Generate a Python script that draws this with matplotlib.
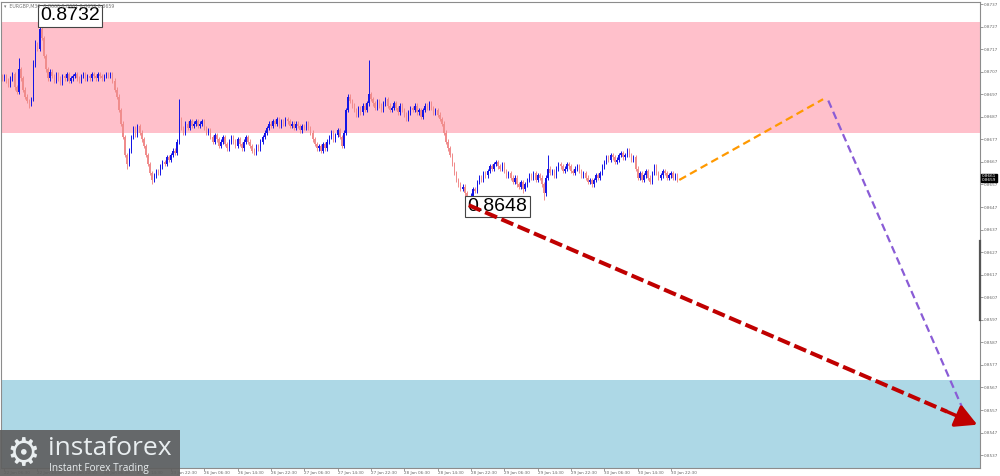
import numpy as np
import matplotlib.pyplot as plt
from matplotlib.patches import Rectangle

# EURGBP M30 closes, in pips above 0.8600 (bar 0 = 22 Jan 06:00)
closes_pips = [
    104, 105, 103, 101, 104, 106, 100, 98, 108, 104,
    99, 96, 94, 93, 95, 110, 119, 117, 126, 122,
    114, 108, 104, 107, 105, 103, 106, 104, 102, 105,
    104, 106, 103, 104, 105, 106, 104, 103, 105, 106,
    104, 105, 104, 106, 105, 104, 106, 105, 104, 105,
    106, 105, 106, 103, 99, 96, 90, 84, 78, 70,
    66, 72, 78, 82, 79, 83, 80, 77, 74, 70,
    66, 62, 59, 61, 63, 62, 65, 67, 66, 69,
    68, 70, 72, 71, 76, 86, 82, 80, 84, 82,
    85, 83, 84, 85, 83, 84, 85, 82, 80, 81,
    78, 76, 79, 77, 74, 76, 78, 75, 73, 76,
    78, 76, 74, 77, 75, 73, 76, 78, 76, 74,
    72, 71, 74, 73, 76, 78, 80, 82, 84, 83,
    85, 84, 86, 83, 85, 84, 86, 85, 83, 84,
    82, 84, 83, 81, 83, 82, 84, 82, 80, 77,
    75, 73, 74, 72, 75, 73, 76, 78, 80, 77,
    79, 81, 78, 74, 80, 90, 96, 94, 92, 90,
    88, 91, 89, 92, 90, 93, 97, 95, 93, 91,
    94, 92, 90, 93, 95, 92, 90, 91, 93, 91,
    89, 92, 90, 88, 86, 89, 91, 90, 92, 89,
    90, 87, 90, 92, 91, 93, 91, 89, 90, 88,
    86, 84, 80, 76, 73, 70, 66, 62, 59, 57,
    55, 56, 53, 51, 50, 52, 55, 54, 58, 60,
    59, 62, 61, 63, 65, 64, 66, 67, 65, 64,
    66, 63, 61, 62, 60, 58, 60, 57, 56, 58,
    55, 57, 59, 61, 60, 62, 59, 61, 60, 57,
    53, 60, 64, 62, 63, 61, 64, 66, 65, 63,
    64, 66, 65, 63, 62, 64, 65, 63, 61, 62,
    60, 58, 59, 57, 59, 61, 60, 62, 65, 67,
    69, 68, 70, 69, 67, 68, 70, 71, 69, 70,
    72, 70, 68, 69, 64, 60, 62, 59, 61, 63,
    60, 58, 62, 65, 62, 60, 61, 63, 62, 60,
    61, 62, 60, 61, 59,
]
# wicks that reach further than the usual pip
high_spikes = {8: 113, 15: 112, 16: 121, 18: 132, 85: 95, 176: 112, 262: 70}
low_spikes = {13: 91, 60: 64, 72: 57, 224: 48, 250: 53, 260: 50}

tick_labels = ['22 Jan 06:30', '22 Jan 14:30', '22 Jan 22:30', '23 Jan 06:30',
               '23 Jan 14:30', '23 Jan 22:30', '26 Jan 06:30', '26 Jan 14:30',
               '26 Jan 22:30', '27 Jan 06:30', '27 Jan 14:30', '27 Jan 22:30',
               '28 Jan 06:30', '28 Jan 14:30', '28 Jan 22:30', '29 Jan 06:30',
               '29 Jan 14:30', '29 Jan 22:30', '30 Jan 06:30', '30 Jan 14:30',
               '30 Jan 22:30']
price_ticks = [0.8737, 0.8727, 0.8717, 0.8707, 0.8697, 0.8687, 0.8677, 0.8667,
               0.8657, 0.8647, 0.8637, 0.8627, 0.8617, 0.8607, 0.8597, 0.8587,
               0.8577, 0.8567, 0.8557, 0.8547, 0.8537]

sell_zone = (0.86798, 0.8729)
buy_zone_top = 0.85703
high_bar, high_price = 18, 0.8732
low_bar, low_price = 224, 0.8648

# forecast paths (bar index, price)
orange_x, orange_y = [325, 394], [0.8659, 0.86948]
purple_x, purple_y = [396.5, 461.5], [0.86942, 0.85565]
red_x, red_y = [224, 468], [0.86478, 0.85505]

bull_color = '#1414e6'
bear_color = '#f08c8c'

closes = 0.86 + np.array(closes_pips) / 10000
opens = np.r_[closes[0] + 0.0001, closes[:-1]]
idx = np.arange(len(closes))
hi = np.maximum(opens, closes) + 0.0001
lo = np.minimum(opens, closes) - 0.0001
for i, v in high_spikes.items():
    hi[i] = 0.86 + v / 10000
for i, v in low_spikes.items():
    lo[i] = 0.86 + v / 10000
up = closes >= opens

fig = plt.figure(figsize=(10, 4.76), dpi=100)
ax = fig.add_axes([0.001, 0.0168, 0.979, 0.979])
ax.set_xlim(-0.5, 469.3)
ax.set_ylim(0.85313, 0.87379)

# zones
ax.axhspan(sell_zone[0], sell_zone[1], color='#ffc0cb', lw=0, zorder=0)
ax.axhspan(0.85, buy_zone_top, color='#add8e6', lw=0, zorder=0)

# candles
ax.vlines(idx[up], lo[up], hi[up], color=bull_color, lw=0.7, zorder=2)
ax.vlines(idx[~up], lo[~up], hi[~up], color=bear_color, lw=0.7, zorder=2)
body = np.maximum(np.abs(closes - opens), 0.00003)
ax.bar(idx, body, bottom=np.minimum(opens, closes), width=0.6,
       color=np.where(up, bull_color, bear_color), lw=0, zorder=2)

# extreme labels
box = dict(boxstyle='square,pad=0.12', fc='white', ec='#444444', lw=0.8)
ax.text(high_bar + 0.3, high_price - 0.00003, f'{high_price:.4f}', fontsize=14,
        family='Liberation Sans', ha='left', va='center', bbox=box, zorder=3)
ax.text(low_bar - 0.6, low_price - 0.00008, f'{low_price:.4f}', fontsize=14,
        family='Liberation Sans', ha='left', va='center', bbox=box, zorder=3)

# forecast lines
ax.plot(orange_x, orange_y, color='#ff9900', lw=1.6, ls=(0, (3.5, 2)), zorder=4)
ax.plot(purple_x, purple_y, color='#8a5cd6', lw=1.6, ls=(0, (3.5, 2)), zorder=4)
head_x = red_x[0] + 0.94 * (red_x[1] - red_x[0])
head_y = red_y[0] + 0.94 * (red_y[1] - red_y[0])
ax.plot([red_x[0], head_x], [red_y[0], head_y], color='#c00000', lw=2.9,
        ls=(0, (3.2, 1.2)), zorder=5)
ax.annotate('', xy=(red_x[1], red_y[1]), xytext=(head_x, head_y),
            arrowprops=dict(arrowstyle='-|>,head_length=1.3,head_width=0.7',
                            color='#c00000', lw=2.5, shrinkA=0, shrinkB=0),
            zorder=5)

# axes styling like the terminal
for s in ['left', 'top', 'right', 'bottom']:
    ax.spines[s].set_color('#8c8c8c')
    ax.spines[s].set_linewidth(0.8)
ax.yaxis.tick_right()
ax.set_yticks(price_ticks)
ax.set_yticklabels([f'{p:.4f}' for p in price_ticks])
ax.tick_params(axis='y', labelsize=3.0, colors='#8c8c8c', labelcolor='#666666',
               length=2, width=0.6, pad=1)
ax.set_xticks(1 + 16 * np.arange(len(tick_labels)))
ax.set_xticklabels(tick_labels)
ax.tick_params(axis='x', labelsize=3.0, colors='#8c8c8c', labelcolor='#666666',
               length=2, width=0.6, pad=0.5)
for lab in ax.get_xticklabels():
    lab.set_ha('left')

# scroll bar mark on the price scale
ax.plot([1.0, 1.0], [0.8597, 0.8632], transform=ax.get_yaxis_transform(),
        color='#555555', lw=1.6, clip_on=False, zorder=6)

# current price box
fig.text(0.982, 1 - 178 / 476, '0.8661\n0.8659', fontsize=3.0, color='white',
         va='center', ha='left', linespacing=0.9,
         bbox=dict(boxstyle='square,pad=0.15', fc='black', ec='black'))

# chart header
fig.text(0.004, 1 - 6 / 476, '\u25be  EURGBP,M30  0.8660 0.8661 0.8659 0.8659',
         fontsize=3.4, color='#777777', va='center', ha='left')

# watermark logo
fig.patches.append(Rectangle((0, 0), 0.18, 46 / 476, transform=fig.transFigure,
                             fc='#5f5f5f', ec='none', alpha=0.92, zorder=5))
fig.text(0.006, 0.045, '\u2699', fontsize=27, color='#e9eef0', va='center',
         ha='left', family='DejaVu Sans', zorder=6)
fig.text(0.048, 0.058, 'instaforex', fontsize=19, color='#e9eef0', va='center',
         ha='left', family='Open Sans', zorder=6)
fig.text(0.049, 0.016, 'Instant Forex Trading', fontsize=7.2, color='#e9eef0',
         va='center', ha='left', family='Open Sans', zorder=6)

plt.savefig('out.png', dpi=100)
